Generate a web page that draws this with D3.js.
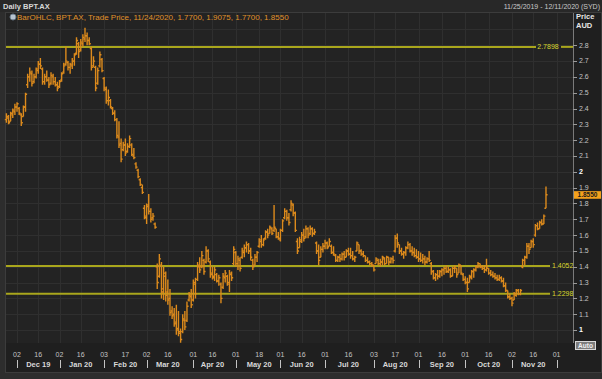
<!DOCTYPE html>
<html><head><meta charset="utf-8">
<script src="https://cdn.jsdelivr.net/npm/d3@7"></script>
<style>body{margin:0;background:#2b2b2b;}svg{display:block;font-family:"Liberation Sans",Arial,sans-serif;}</style>
</head><body><svg id="c" width="602" height="379"></svg>
<script>
const holidays = ["2019-12-25","2019-12-26","2020-01-01","2020-01-27","2020-04-10","2020-04-13","2020-06-08"];
const opens = [
2.33,2.34,2.32,2.36,2.38,2.41,2.40,2.36,2.35,2.41,
2.55,2.60,2.62,2.57,2.60,2.64,2.68,2.65,2.57,2.60,
2.58,2.56,2.60,2.57,2.55,2.54,2.58,2.63,2.68,2.69,
2.66,2.67,2.70,2.75,2.81,2.77,2.81,2.84,2.86,2.83,
2.78,2.67,2.66,2.56,2.67,2.71,2.59,2.52,2.45,2.45,
2.40,2.37,2.33,2.22,2.18,2.14,2.17,2.13,2.16,2.17,
2.10,2.05,2.01,1.95,1.90,1.77,1.71,1.79,1.75,1.71,
1.67,1.40,1.34,1.41,1.26,1.34,1.24,1.20,1.12,1.10,
1.05,1.01,0.99,0.99,1.06,1.06,1.19,1.21,1.19,1.29,
1.32,1.40,1.40,1.44,1.43,1.50,1.43,1.36,1.33,1.35,
1.31,1.29,1.27,1.33,1.34,1.30,1.35,1.42,1.49,1.42,
1.44,1.46,1.49,1.52,1.54,1.50,1.44,1.41,1.46,1.53,
1.56,1.54,1.58,1.62,1.61,1.64,1.63,1.64,1.59,1.57,
1.63,1.71,1.75,1.71,1.76,1.79,1.74,1.56,1.52,1.56,
1.60,1.59,1.64,1.61,1.64,1.61,1.55,1.50,1.46,1.51,
1.53,1.55,1.53,1.53,1.49,1.47,1.44,1.46,1.45,1.48,
1.46,1.50,1.48,1.47,1.45,1.50,1.54,1.50,1.48,1.47,
1.44,1.43,1.42,1.41,1.42,1.44,1.42,1.43,1.45,1.42,
1.46,1.43,1.45,1.50,1.58,1.54,1.50,1.48,1.49,1.52,
1.54,1.50,1.49,1.47,1.46,1.45,1.44,1.45,1.43,1.45,
1.42,1.37,1.33,1.35,1.34,1.37,1.38,1.39,1.37,1.38,
1.34,1.39,1.39,1.36,1.41,1.35,1.32,1.30,1.30,1.33,
1.37,1.38,1.40,1.42,1.40,1.39,1.38,1.39,1.36,1.35,
1.34,1.33,1.32,1.33,1.31,1.28,1.25,1.21,1.20,1.19,
1.22,1.25,1.23,1.40,1.44,1.46,1.53,1.52,1.56,1.60,
1.66,1.64,1.68,1.67,1.77];
const highs = [
2.37,2.36,2.38,2.40,2.43,2.44,2.41,2.37,2.42,2.50,
2.62,2.66,2.64,2.62,2.66,2.70,2.72,2.66,2.62,2.64,
2.60,2.63,2.62,2.60,2.57,2.58,2.63,2.69,2.79,2.70,
2.69,2.72,2.75,2.85,2.82,2.84,2.87,2.91,2.88,2.85,
2.79,2.73,2.67,2.66,2.76,2.72,2.60,2.54,2.52,2.46,
2.41,2.39,2.34,2.32,2.21,2.19,2.21,2.18,2.23,2.18,
2.15,2.06,2.02,1.96,1.92,1.79,1.80,1.86,1.77,1.74,
1.68,1.42,1.48,1.43,1.40,1.37,1.32,1.26,1.15,1.14,
1.16,1.12,1.01,1.10,1.12,1.18,1.24,1.26,1.32,1.33,
1.43,1.46,1.50,1.45,1.53,1.51,1.44,1.40,1.40,1.36,
1.35,1.30,1.36,1.38,1.35,1.38,1.37,1.53,1.50,1.47,
1.46,1.52,1.54,1.56,1.55,1.52,1.45,1.48,1.50,1.58,
1.60,1.58,1.63,1.64,1.66,1.65,1.79,1.64,1.62,1.64,
1.70,1.77,1.76,1.74,1.82,1.80,1.75,1.58,1.59,1.62,
1.64,1.66,1.65,1.66,1.65,1.64,1.56,1.54,1.53,1.55,
1.57,1.56,1.58,1.54,1.53,1.48,1.47,1.48,1.49,1.50,
1.51,1.52,1.52,1.50,1.47,1.56,1.54,1.51,1.50,1.47,
1.46,1.44,1.43,1.41,1.46,1.45,1.45,1.47,1.46,1.47,
1.46,1.46,1.47,1.60,1.61,1.54,1.52,1.50,1.53,1.56,
1.55,1.53,1.52,1.51,1.50,1.49,1.48,1.47,1.46,1.50,
1.43,1.38,1.36,1.38,1.38,1.39,1.40,1.41,1.40,1.39,
1.40,1.41,1.39,1.42,1.41,1.36,1.34,1.33,1.35,1.38,
1.39,1.41,1.43,1.42,1.41,1.41,1.45,1.39,1.38,1.37,
1.36,1.35,1.35,1.34,1.33,1.30,1.25,1.23,1.21,1.24,
1.26,1.26,1.26,1.45,1.47,1.55,1.55,1.57,1.58,1.67,
1.68,1.69,1.70,1.73,1.9075];
const lows = [
2.31,2.30,2.32,2.34,2.36,2.38,2.36,2.29,2.35,2.38,
2.53,2.57,2.54,2.56,2.59,2.62,2.65,2.55,2.55,2.57,
2.53,2.55,2.55,2.54,2.51,2.53,2.57,2.62,2.67,2.64,
2.62,2.65,2.67,2.74,2.72,2.76,2.79,2.82,2.80,2.80,
2.64,2.66,2.51,2.55,2.66,2.63,2.51,2.43,2.42,2.40,
2.36,2.32,2.21,2.15,2.06,2.13,2.10,2.12,2.15,2.10,
2.08,2.02,1.96,1.91,1.86,1.70,1.67,1.73,1.68,1.69,
1.64,1.26,1.33,1.20,1.19,1.18,1.16,1.09,1.07,1.02,
0.97,0.96,0.92,0.98,1.00,1.05,1.18,1.14,1.18,1.20,
1.31,1.36,1.39,1.35,1.42,1.43,1.33,1.32,1.31,1.30,
1.28,1.17,1.26,1.30,1.28,1.24,1.31,1.41,1.40,1.38,
1.37,1.45,1.46,1.49,1.48,1.44,1.38,1.41,1.43,1.52,
1.52,1.53,1.57,1.58,1.61,1.60,1.62,1.58,1.57,1.56,
1.62,1.70,1.69,1.66,1.75,1.72,1.62,1.48,1.52,1.55,
1.56,1.58,1.58,1.60,1.59,1.60,1.48,1.41,1.46,1.49,
1.51,1.51,1.53,1.48,1.47,1.43,1.43,1.43,1.44,1.44,
1.46,1.47,1.45,1.44,1.43,1.50,1.48,1.47,1.46,1.43,
1.42,1.41,1.40,1.37,1.42,1.41,1.40,1.41,1.41,1.42,
1.41,1.42,1.42,1.49,1.52,1.48,1.47,1.45,1.47,1.51,
1.49,1.47,1.46,1.45,1.43,1.43,1.42,1.41,1.42,1.43,
1.35,1.32,1.31,1.32,1.33,1.34,1.35,1.36,1.36,1.33,
1.34,1.36,1.33,1.36,1.35,1.31,1.29,1.24,1.30,1.32,
1.33,1.37,1.39,1.39,1.38,1.36,1.37,1.35,1.34,1.33,
1.32,1.31,1.31,1.30,1.27,1.24,1.20,1.19,1.15,1.19,
1.21,1.22,1.22,1.39,1.41,1.45,1.48,1.52,1.52,1.59,
1.63,1.64,1.66,1.67,1.77];
const closes = [
2.35,2.31,2.37,2.39,2.41,2.43,2.37,2.31,2.41,2.49,
2.60,2.63,2.56,2.60,2.65,2.68,2.67,2.57,2.60,2.58,
2.55,2.61,2.57,2.55,2.53,2.57,2.62,2.67,2.70,2.66,
2.68,2.70,2.74,2.83,2.76,2.82,2.85,2.86,2.83,2.81,
2.66,2.70,2.53,2.64,2.74,2.64,2.53,2.45,2.47,2.41,
2.37,2.33,2.23,2.17,2.08,2.17,2.12,2.16,2.21,2.11,
2.09,2.03,1.97,1.92,1.87,1.72,1.78,1.75,1.70,1.72,
1.65,1.30,1.45,1.24,1.36,1.22,1.19,1.11,1.09,1.04,
1.00,0.98,0.94,1.07,1.02,1.15,1.22,1.16,1.30,1.23,
1.41,1.38,1.47,1.37,1.50,1.45,1.35,1.34,1.38,1.31,
1.33,1.20,1.34,1.36,1.29,1.36,1.33,1.51,1.42,1.45,
1.39,1.50,1.52,1.54,1.50,1.46,1.40,1.46,1.49,1.57,
1.54,1.57,1.62,1.60,1.65,1.61,1.65,1.59,1.58,1.63,
1.69,1.75,1.71,1.68,1.80,1.74,1.63,1.50,1.57,1.60,
1.58,1.64,1.60,1.64,1.61,1.62,1.50,1.44,1.51,1.53,
1.55,1.52,1.56,1.49,1.48,1.44,1.46,1.45,1.48,1.46,
1.50,1.48,1.47,1.45,1.46,1.55,1.50,1.48,1.47,1.44,
1.43,1.42,1.41,1.38,1.45,1.42,1.43,1.46,1.42,1.46,
1.43,1.45,1.44,1.58,1.55,1.50,1.48,1.49,1.52,1.54,
1.50,1.49,1.47,1.46,1.45,1.44,1.45,1.43,1.45,1.44,
1.37,1.33,1.35,1.34,1.37,1.38,1.39,1.37,1.38,1.34,
1.39,1.40,1.35,1.41,1.36,1.32,1.30,1.26,1.34,1.37,
1.38,1.40,1.42,1.40,1.39,1.38,1.40,1.36,1.35,1.34,
1.33,1.32,1.33,1.31,1.28,1.25,1.21,1.20,1.17,1.23,
1.25,1.23,1.25,1.44,1.46,1.53,1.51,1.56,1.54,1.66,
1.64,1.68,1.67,1.72,1.855];
const yTicks = [1,1.1,1.2,1.3,1.4,1.5,1.6,1.7,1.8,1.9,2,2.1,2.2,2.3,2.4,2.5,2.6,2.7,2.8,2.9];
const yTickLabels = ["1","1.1","1.2","1.3","1.4","1.5","1.6","1.7","1.8","1.9","2","2.1","2.2","2.3","2.4","2.5","2.6","2.7","2.8",""];
const levels = [2.7898, 1.4052, 1.2298];
const levelLabels = ["2.7898","1.4052","1.2298"];
const tickDates = ["2019-12-02","2019-12-16","2020-01-02","2020-01-16","2020-02-03","2020-02-17","2020-03-02","2020-03-16","2020-04-01","2020-04-16","2020-05-01","2020-05-18","2020-06-01","2020-06-16","2020-07-01","2020-07-16","2020-08-03","2020-08-17","2020-09-01","2020-09-16","2020-10-01","2020-10-16","2020-11-02","2020-11-16","2020-12-01"];
const tickLabels = ["02","16","02","16","03","17","02","16","01","16","01","18","01","16","01","16","03","17","01","16","01","16","02","16","01"];
const monthStarts = ["2019-12-02","2020-01-02","2020-02-03","2020-03-02","2020-04-01","2020-05-01","2020-06-01","2020-07-01","2020-08-03","2020-09-01","2020-10-01","2020-11-02","2020-12-01"];
const monthMids = ["2019-12-16","2020-01-16","2020-02-17","2020-03-16","2020-04-16","2020-05-18","2020-06-16","2020-07-16","2020-08-17","2020-09-16","2020-10-16","2020-11-16"];
const monthLabels = ["Dec 19","Jan 20","Feb 20","Mar 20","Apr 20","May 20","Jun 20","Jul 20","Aug 20","Sep 20","Oct 20","Nov 20"];
const lastPrice = 1.855, lastPriceLabel = "1.8550";

const fmt = d3.timeFormat("%Y-%m-%d");
const days = d3.timeDay.range(new Date(2019,10,25), new Date(2020,11,12))
  .filter(d => d.getDay() !== 0 && d.getDay() !== 6 && !holidays.includes(fmt(d)))
  .map(fmt);
const data = highs.map((h,i) => ({date: days[i], o: opens[i], h, l: lows[i], c: closes[i]}));

const L = 6, R = 573, T = 13, B = 343;
const x = d3.scalePoint().domain(days).range([6.4, 573.6]);
const y = d3.scaleLinear().domain([0.918, 3.004]).range([B, T]);

const svg = d3.select("#c");
svg.append("rect").attr("width",602).attr("height",379).attr("fill","#2d2d2d");
svg.append("rect").attr("x",0).attr("y",0).attr("width",602).attr("height",12).attr("fill","#282828");
svg.append("rect").attr("x",5.5).attr("y",12.5).attr("width",596).attr("height",360).attr("fill","#1f1f1f").attr("stroke","#3c3c3c");
svg.append("rect").attr("x",L).attr("y",T).attr("width",R-L).attr("height",B-T).attr("fill","#232323");

const grid = svg.append("g").attr("stroke","#2f2f2f").attr("stroke-width",1).attr("shape-rendering","crispEdges");
grid.selectAll("line.h").data(yTicks).join("line")
  .attr("x1",L).attr("x2",R).attr("y1",d=>Math.round(y(d))+0.5).attr("y2",d=>Math.round(y(d))+0.5);
grid.selectAll("line.v").data(tickDates).join("line")
  .attr("y1",T).attr("y2",B).attr("x1",d=>Math.round(x(d))+0.5).attr("x2",d=>Math.round(x(d))+0.5);

// level lines
const lvl = svg.append("g");
levels.forEach((v,k) => {
  const yy = y(v);
  const segs = k === 0 ? [[L,536],[561,R]] : [[L,550]];
  segs.forEach(s => lvl.append("line").attr("x1",s[0]).attr("x2",s[1]).attr("y1",yy).attr("y2",yy)
    .attr("stroke","#a9a61c").attr("stroke-width",2));
  lvl.append("text").attr("x", k===0 ? 548 : 552).attr("y", yy+2.5)
    .attr("text-anchor", k===0 ? "middle" : "start")
    .attr("font-size",7).attr("fill","#d9d62e").text(levelLabels[k]);
});

// OHLC bars
svg.append("g").attr("stroke","#dc8a1c").attr("stroke-width",1.4).attr("fill","none")
  .selectAll("path").data(data).join("path")
  .attr("d", d => {
    const xx = x(d.date);
    return `M${xx},${y(d.h)}V${y(d.l)}M${xx-1.6},${y(d.o)}H${xx}M${xx},${y(d.c)}H${xx+1.6}`;
  });

// right axis
const ax = svg.append("g");
ax.append("line").attr("x1",R+0.5).attr("x2",R+0.5).attr("y1",T).attr("y2",B).attr("stroke","#7a7a7a");
ax.selectAll("line.t").data(yTicks.slice(0,19)).join("line")
  .attr("x1",R).attr("x2",R+4).attr("y1",d=>Math.round(y(d))+0.5).attr("y2",d=>Math.round(y(d))+0.5)
  .attr("stroke","#9a9a9a").attr("shape-rendering","crispEdges");
ax.selectAll("text").data(yTicks.slice(0,19)).join("text")
  .attr("x",R+6).attr("y",d=>y(d)+2.4).attr("font-size",7)
  .attr("fill",(d,i)=> Number.isInteger(d) ? "#ffffff" : "#c4c4c4")
  .attr("font-weight",(d)=> Number.isInteger(d) ? "bold" : "normal")
  .text((d,i)=>yTickLabels[i]);
svg.append("text").attr("x",576).attr("y",19).attr("font-size",7.5).attr("font-weight","bold").attr("fill","#e8e8e8").text("Price");
svg.append("text").attr("x",576).attr("y",28).attr("font-size",7.5).attr("font-weight","bold").attr("fill","#e8e8e8").text("AUD");

// last price box
const yl = y(lastPrice);
svg.append("rect").attr("x",574).attr("y",yl-3.6).attr("width",27).attr("height",7.6).attr("fill","#f4a11c");
svg.append("text").attr("x",587.5).attr("y",yl+2.6).attr("text-anchor","middle").attr("font-size",6.5).attr("font-weight","bold").attr("fill","#1a1a1a").text(lastPriceLabel);

// Auto button
svg.append("rect").attr("x",575.5).attr("y",341.5).attr("width",20).attr("height",8).attr("fill","#7c7c7c").attr("stroke","#d8d8d8");
svg.append("text").attr("x",585.5).attr("y",348).attr("text-anchor","middle").attr("font-size",6.5).attr("font-weight","bold").attr("fill","#f0f0f0").text("Auto");

// x axis
const xa = svg.append("g");
xa.selectAll("text.d").data(tickDates).join("text")
  .attr("x",d=>x(d)).attr("y",357).attr("text-anchor","middle").attr("font-size",7).attr("fill","#c4c4c4")
  .text((d,i)=>tickLabels[i]);
xa.selectAll("line.m").data(monthStarts).join("line")
  .attr("x1",d=>Math.round(x(d))+0.5).attr("x2",d=>Math.round(x(d))+0.5).attr("y1",360).attr("y2",368)
  .attr("stroke","#c4c4c4");
xa.selectAll("text.m").data(monthMids).join("text")
  .attr("x",d=>x(d)).attr("y",367).attr("text-anchor","middle").attr("font-size",7.5).attr("font-weight","bold").attr("fill","#d8d8d8")
  .text((d,i)=>monthLabels[i]);

// header & legend
svg.append("text").attr("x",3).attr("y",9).attr("font-size",7.5).attr("font-weight","bold").attr("fill","#d8d8d8").text("Daily BPT.AX");
svg.append("text").attr("x",600).attr("y",9).attr("text-anchor","end").attr("font-size",7).attr("fill","#c8c8c8").text("11/25/2019 - 12/11/2020 (SYD)");
svg.append("circle").attr("cx",13).attr("cy",17).attr("r",3).attr("fill","#b8c4d0").attr("stroke","#6a7a8a");
svg.append("text").attr("x",17).attr("y",20).attr("font-size",8).attr("fill","#e0922a")
  .text("BarOHLC, BPT.AX, Trade Price,  11/24/2020,  1.7700,  1.9075,  1.7700,  1.8550");
</script></body></html>
